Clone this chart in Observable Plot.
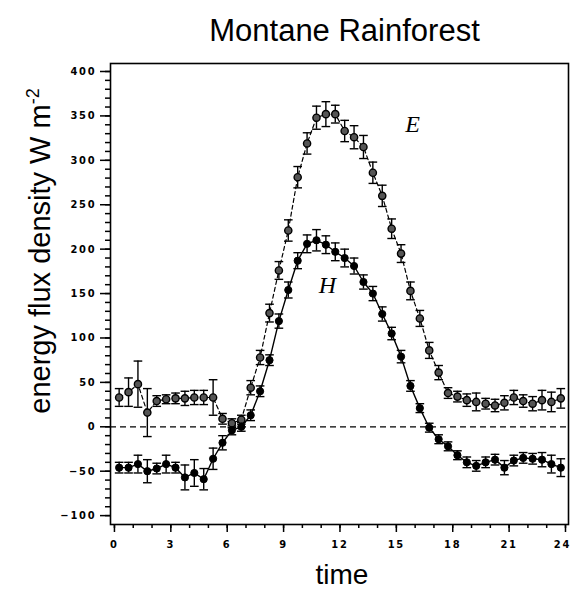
<!DOCTYPE html>
<html>
<head>
<meta charset="utf-8">
<script src="https://cdn.jsdelivr.net/npm/d3@7"></script>
<script src="https://cdn.jsdelivr.net/npm/@observablehq/plot@0.6"></script>
<style>
  html, body { margin: 0; padding: 0; background: #fff; }
  #title { width: 571px; height: 55px; box-sizing: border-box; padding-left: 118px; text-align: center;
           font-family: "Liberation Sans", Arial, sans-serif; font-size: 31px; line-height: 31px; padding-top: 15px; color: #000; }
  #chart svg { display: block; }
  #chart [aria-label$="tick label"] text { font-family: "DejaVu Sans Condensed", sans-serif; font-weight: bold; letter-spacing: 1.8px; }
</style>
</head>
<body>
<div id="title">Montane Rainforest</div>
<div id="chart"></div>
<script>
// half-hourly times (hours)
const times = [0.25,0.75,1.25,1.75,2.25,2.75,3.25,3.75,4.25,4.75,5.25,5.75,6.25,6.75,7.25,7.75,8.25,8.75,9.25,9.75,10.25,10.75,11.25,11.75,
               12.25,12.75,13.25,13.75,14.25,14.75,15.25,15.75,16.25,16.75,17.25,17.75,18.25,18.75,19.25,19.75,20.25,20.75,21.25,21.75,22.25,22.75,23.25,23.75];
// latent heat flux E (W m-2)
const eValues = [33,39,48,16,29,31,32,32,33,33,33,9,4,8,44,78,128,176,221,281,319,348,352,352,
                 333,326,315,286,260,223,195,153,122,86,61,38,34,30,28,26,24,27,33,29,26,30,28,32];
const eErrors = [10,16,26,27,6,5,6,8,8,8,20,6,5,5,8,8,10,10,12,12,12,13,14,10,
                 12,13,13,12,12,11,10,10,9,9,8,6,6,7,10,6,7,8,8,7,8,11,11,11];
// sensible heat flux H (W m-2)
const hValues = [-46,-46,-42,-50,-47,-42,-46,-57,-52,-59,-36,-18,-4,0,13,40,75,119,154,187,206,210,205,197,
                 190,181,163,150,127,105,79,46,21,-1,-14,-22,-32,-40,-44,-40,-37,-46,-38,-35,-36,-37,-42,-46];
const hErrors = [6,6,10,13,6,10,6,14,15,12,12,8,5,5,6,6,6,8,9,9,10,12,10,10,
                 10,9,8,8,8,7,7,6,5,5,5,5,5,6,6,6,6,8,6,6,6,8,10,10];
// axis ticks
const yMajorTicks = [-100,-50,0,50,100,150,200,250,300,350,400];
const xMajorTicks = [0,3,6,9,12,15,18,21,24];
// series labels
const labelText = ["E","H"];
const labelX = [15.86,11.33];
const labelY = [341,159];

const E = times.map((t,i)=>({t, v:eValues[i], e:eErrors[i]}));
const H = times.map((t,i)=>({t, v:hValues[i], e:hErrors[i]}));
const labels = labelText.map((s,i)=>({s, x:labelX[i], y:labelY[i]}));
const yMinor = d3.range(-100, 401, 10);
const xMinor = d3.range(0, 25, 1);
const xInnerLabels = xMajorTicks.slice(0, -1);
const xLastLabel = xMajorTicks.slice(-1);
const capHalf = 0.23;

function errMarks(data) {
  return [
    Plot.ruleX(data, {x:"t", y1:d=>d.v-d.e, y2:d=>d.v+d.e, stroke:"#000", strokeWidth:1.4}),
    Plot.link(data, {x1:d=>d.t-capHalf, x2:d=>d.t+capHalf, y1:d=>d.v+d.e, y2:d=>d.v+d.e, stroke:"#000", strokeWidth:1.4}),
    Plot.link(data, {x1:d=>d.t-capHalf, x2:d=>d.t+capHalf, y1:d=>d.v-d.e, y2:d=>d.v-d.e, stroke:"#000", strokeWidth:1.4})
  ];
}

const chart = Plot.plot({
  width: 571,
  height: 534,
  marginTop: 8,
  marginBottom: 65,
  marginLeft: 110,
  marginRight: 3,
  style: {fontFamily: "DejaVu Sans Condensed", fontSize: "11px", background: "#fff", color: "#000"},
  x: {domain: [-0.21, 24.16]},
  y: {domain: [-110, 409]},
  marks: [
    Plot.ruleY([0], {stroke:"#000", strokeWidth:1.3, strokeDasharray:"6,4"}),
    Plot.axisY(yMinor, {tickSize:5, tickFormat:()=>"", strokeWidth:1.5, label:null}),
    Plot.axisY(yMajorTicks, {tickSize:10, tickPadding:4, strokeWidth:1.5, fontSize:11, label:null}),
    Plot.axisX(xMinor, {tickSize:4, tickFormat:()=>"", strokeWidth:1.5, label:null}),
    Plot.axisX(xMajorTicks, {tickSize:8, tickFormat:()=>"", strokeWidth:1.5, label:null}),
    Plot.axisX(xInnerLabels, {tickSize:0, tickPadding:16, fontSize:11, label:null}),
    Plot.axisX(xLastLabel, {tickSize:0, tickPadding:16, fontSize:11, dx:-3, label:null}),
    Plot.line(E, {x:"t", y:"v", stroke:"#000", strokeWidth:1.2, strokeDasharray:"4,3"}),
    Plot.line(H, {x:"t", y:"v", stroke:"#000", strokeWidth:1.4}),
    ...errMarks(E),
    ...errMarks(H),
    Plot.dot(E, {x:"t", y:"v", r:3.6, fill:"#555", stroke:"#000", strokeWidth:1.4}),
    Plot.dot(H, {x:"t", y:"v", r:3.6, fill:"#000", stroke:"#000", strokeWidth:1}),
    Plot.text(labels, {x:"x", y:"y", text:"s", fontFamily:"Liberation Serif", fontStyle:"italic", fontSize:24, fill:"#000"}),
    Plot.frame({stroke:"#000", strokeWidth:1.6})
  ]
});
document.getElementById("chart").appendChild(chart);

const svg = d3.select(chart);
const yl = svg.append("text")
  .attr("transform", "translate(50,196) rotate(-90)")
  .attr("text-anchor", "middle")
  .attr("font-family", "Liberation Sans, Arial, sans-serif")
  .attr("font-size", 29)
  .attr("fill", "#000");
yl.append("tspan").text("energy flux density W m");
yl.append("tspan").attr("font-size", 18).attr("dy", -11).text("-2");
svg.append("text")
  .attr("x", 342).attr("y", 529)
  .attr("text-anchor", "middle")
  .attr("font-family", "Liberation Sans, Arial, sans-serif")
  .attr("font-size", 28)
  .attr("fill", "#000")
  .text("time");
</script>
</body>
</html>
